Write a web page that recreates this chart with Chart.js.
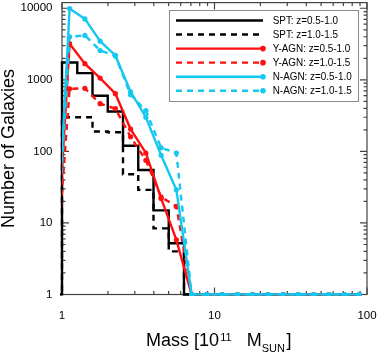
<!DOCTYPE html>
<html><head><meta charset="utf-8">
<script src="https://cdn.jsdelivr.net/npm/chart.js@4/dist/chart.umd.min.js"></script>
<style>html,body{margin:0;padding:0;background:#fff;} #wrap{width:379px;height:354px;position:relative;}</style>
</head><body><div id="wrap"><canvas id="c"></canvas></div>
<script>
// Mass bin centres (10^11 Msun); first bin lies just left of the axis
const massBins = [0.891, 1.122, 1.413, 1.778, 2.239, 2.818, 3.548, 4.467, 5.623, 7.079, 8.913, 11.22, 14.13, 17.78, 22.39, 28.18, 35.48, 44.67, 56.23, 70.79, 89.13];
// Number of galaxies per bin (empty bins shown at 1, the axis floor)
const sptLow   = [1, 1750, 1240, 600, 360, 120, 55, 15, 5.2, 1,1,1,1,1,1,1,1,1,1,1,1];
const sptHigh  = [1, 300, 300, 190, 185, 48, 29, 8.4, 4, 1,1,1,1,1,1,1,1,1,1,1,1];
const yagnLow  = [1, 3200, 1680, 1057, 640, 205, 95, 22, 5.8, 1,1,1,1,1,1,1,1,1,1,1,1];
const yagnHigh = [1, 750, 760, 464, 395, 160, 75, 23, 17, 1,1,1,1,1,1,1,1,1,1,1,1];
const nagnLow  = [1, 9900, 7100, 3470, 2190, 680, 300, 88, 29, 1,1,1,1,1,1,1,1,1,1,1,1];
const nagnHigh = [1, 4000, 4170, 2570, 2150, 620, 370, 112, 95, 1,1,1,1,1,1,1,1,1,1,1,1];
const seriesLabels = ['SPT: z=0.5-1.0', 'SPT: z=1.0-1.5', 'Y-AGN: z=0.5-1.0', 'Y-AGN: z=1.0-1.5', 'N-AGN: z=0.5-1.0', 'N-AGN: z=1.0-1.5'];
const xTickValues = [1, 10, 100];
const yTickValues = [1, 10, 100, 1000, 10000];
const yTitle = 'Number of Galaxies';
const xTitleParts = ['Mass [10', '11', 'M', 'SUN', ']'];

const FONT = "'Liberation Sans', Arial, Helvetica, sans-serif";
const BLACK = '#000000', RED = '#ff0f0f', CYAN = '#14c8f0';

function mk(label, vals, color, dashed, stepped, points, order) {
  return {
    label, order,
    data: massBins.map((x, i) => ({x, y: vals[i]})),
    borderColor: color, backgroundColor: color,
    borderWidth: 2.4, borderDash: dashed ? [6, 5] : [],
    borderCapStyle: 'butt', borderJoinStyle: 'miter',
    stepped: stepped ? 'middle' : false, tension: 0,
    pointRadius: points ? 2.6 : 0, pointHoverRadius: 0, pointBorderWidth: 0,
    pointBackgroundColor: color, pointBorderColor: color,
    _points: points, _dashed: dashed,
    clip: stepped ? {left: 2, top: 0, right: 0, bottom: 1.3} : {left: 0, top: 0, right: 0, bottom: 1.3}
  };
}

const datasets = [
  mk(seriesLabels[0], sptLow, BLACK, false, true, false, 5),
  mk(seriesLabels[1], sptHigh, BLACK, true, true, false, 4),
  mk(seriesLabels[2], yagnLow, RED, false, false, true, 3),
  mk(seriesLabels[3], yagnHigh, RED, true, false, true, 2),
  mk(seriesLabels[4], nagnLow, CYAN, false, false, true, 1),
  mk(seriesLabels[5], nagnHigh, CYAN, true, false, true, 0)
];

const framePlugin = {
  id: 'frame',
  beforeDatasetsDraw(chart) {
    const {ctx, chartArea: a, scales: {x, y}} = chart;
    ctx.save();
    ctx.strokeStyle = '#444';
    ctx.lineWidth = 1.2;
    ctx.setLineDash([]);
    ctx.strokeRect(a.left, a.top, a.right - a.left, a.bottom - a.top);
    const majL = 7, minL = 3.5;
    ctx.beginPath();
    for (let d = 0; d <= 2; d++) for (let m = 1; m <= 9; m++) {
      const v = m * Math.pow(10, d);
      if (v < x.min || v > x.max) continue;
      const px = x.getPixelForValue(v), L = m === 1 ? majL : minL;
      ctx.moveTo(px, a.bottom); ctx.lineTo(px, a.bottom - L);
      ctx.moveTo(px, a.top); ctx.lineTo(px, a.top + L);
    }
    for (let d = 0; d <= 4; d++) for (let m = 1; m <= 9; m++) {
      const v = m * Math.pow(10, d);
      if (v < y.min || v > y.max) continue;
      const py = y.getPixelForValue(v), L = m === 1 ? majL : minL;
      ctx.moveTo(a.left, py); ctx.lineTo(a.left + L, py);
      ctx.moveTo(a.right, py); ctx.lineTo(a.right - L, py);
    }
    ctx.stroke();
    ctx.restore();
  }
};

const annotPlugin = {
  id: 'annot',
  afterDraw(chart) {
    const ctx = chart.ctx;
    ctx.save();
    // x axis title with super/subscripts (each piece centred, so alignment is unambiguous)
    const big = `18px ${FONT}`, small = `11px ${FONT}`;
    ctx.fillStyle = '#000';
    ctx.textBaseline = 'alphabetic';
    ctx.textAlign = 'center';
    const fonts = [big, small, big, small, big];
    const widths = xTitleParts.map((p, i) => { ctx.font = fonts[i]; return ctx.measureText(p).width; });
    const gaps = [1.3, 15, 0, 1.5, 0];
    const shifts = [0, -4.6, 0, 5.5, 0];
    const total = widths.reduce((s, w, i) => s + w + gaps[i], 0);
    let x0 = 218.7 - total / 2;
    const base = 346;
    xTitleParts.forEach((p, i) => {
      ctx.font = fonts[i];
      ctx.fillText(p, x0 + widths[i] / 2, base + shifts[i]);
      x0 += widths[i] + gaps[i];
    });

    // legend
    const box = {l: 169.5, t: 10.5, r: 358.5, b: 101.5};
    ctx.fillStyle = '#fff';
    ctx.fillRect(box.l, box.t, box.r - box.l, box.b - box.t);
    ctx.strokeStyle = '#8a8a8a'; ctx.lineWidth = 1;
    ctx.strokeRect(box.l, box.t, box.r - box.l, box.b - box.t);
    chart.data.datasets.forEach((ds, i) => {
      const yy = 20.5 + i * 14.05;
      ctx.strokeStyle = ds.borderColor; ctx.lineWidth = 2.4;
      ctx.setLineDash(ds._dashed ? [6, 5] : []);
      ctx.beginPath(); ctx.moveTo(176, yy); ctx.lineTo(263, yy); ctx.stroke();
      ctx.setLineDash([]);
      if (ds._points) {
        ctx.fillStyle = ds.borderColor;
        ctx.beginPath(); ctx.arc(263, yy, 2.8, 0, Math.PI * 2); ctx.fill();
      }
      ctx.save();
      ctx.font = `11px ${FONT}`;
      const w = ctx.measureText(ds.label).width;
      ctx.translate(272.7, yy + 0.5);
      ctx.scale(0.9, 1);
      ctx.fillStyle = '#000';
      ctx.textBaseline = 'middle'; ctx.textAlign = 'center';
      ctx.fillText(ds.label, w / 2, 0);
      ctx.restore();
    });
    ctx.restore();
  }
};

new Chart(document.getElementById('c'), {
  type: 'line',
  data: {datasets},
  options: {
    responsive: true, maintainAspectRatio: false, animation: false,
    devicePixelRatio: 1,
    layout: {padding: {top: 1.5, right: 12, left: 0, bottom: 0}},
    events: [],
    plugins: {legend: {display: false}, tooltip: {enabled: false}},
    scales: {
      x: {
        type: 'logarithmic', min: 1, max: 100,
        grid: {display: false, drawTicks: false}, border: {display: false},
        ticks: {autoSkip: false, maxRotation: 0, minRotation: 0, padding: 14, color: '#000',
          font: {family: FONT, size: 11.5}, callback: (v) => String(v)},
        afterBuildTicks: (s) => { s.ticks = xTickValues.map(v => ({value: v})); },
        afterFit: (s) => { s.height = 59.5; s.paddingLeft = 0; s.paddingRight = 0; }
      },
      y: {
        type: 'logarithmic', min: 1, max: 12000,
        grid: {display: false, drawTicks: false}, border: {display: false},
        ticks: {autoSkip: false, padding: 9.5, color: '#000',
          font: {family: FONT, size: 11.5}, callback: (v) => String(v)},
        title: {display: true, text: yTitle, color: '#000',
          font: {family: FONT, size: 18, lineHeight: 1}, padding: {top: 0, bottom: 0}},
        afterBuildTicks: (s) => { s.ticks = yTickValues.map(v => ({value: v})); },
        afterFit: (s) => { s.width = 62; s.paddingTop = 0; s.paddingBottom = 0; }
      }
    }
  },
  plugins: [framePlugin, annotPlugin]
});
</script>
</body></html>
